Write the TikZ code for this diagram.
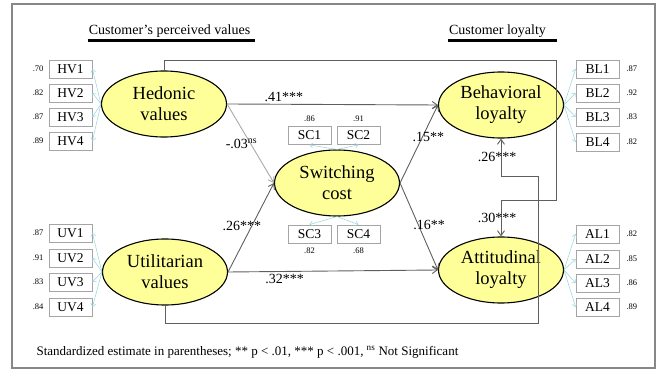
\documentclass[tikz,border=0pt]{standalone}
\usepackage{fontspec}
\setmainfont{Liberation Serif}
\usetikzlibrary{arrows.meta, shapes.geometric}
\definecolor{latyellow}{RGB}{255,255,153}
\definecolor{boxgray}{RGB}{165,165,165}
\definecolor{loadteal}{RGB}{150,212,218}
\definecolor{pathgray}{RGB}{95,95,95}
\definecolor{nsgray}{RGB}{170,170,170}
\definecolor{framegray}{RGB}{135,135,135}

\begin{document}
\begin{tikzpicture}[x=1pt, y=-1pt,
  latent/.style={ellipse, draw=black, line width=1.1pt, fill=latyellow,
        minimum width=125pt, minimum height=66pt, inner sep=0pt,
        align=center, font=\fontsize{18.5}{21}\selectfont},
  ind/.style={draw=boxgray, line width=0.8pt, fill=white, minimum width=43pt,
        minimum height=18pt, inner sep=0pt, font=\fontsize{13.5}{14}\selectfont},
  val/.style={font=\fontsize{8.5}{9}\selectfont, inner sep=1pt},
  load/.style={draw=loadteal, line width=0.5pt, -{Straight Barb[length=3pt,width=5pt]}},
  effect/.style={draw=pathgray, line width=0.9pt, -{Straight Barb[length=5pt,width=7pt]}},
  coef/.style={font=\fontsize{14}{16}\selectfont, inner sep=1pt},
  ttl/.style={font=\fontsize{14}{16}\selectfont, inner xsep=0pt, inner ysep=3pt},
  uline/.style={line width=2.2pt}]
  \useasboundingbox (0,0) rectangle (657,371);

  % Outer frame
  \draw[framegray, line width=1.6pt] (12,4) rectangle (655,368);

  % Group titles
  \node[ttl] (ttlval) at (169.5,31) {Customer’s perceived values};
  \draw[uline] ([xshift=-1pt]ttlval.south west) -- ([xshift=5pt]ttlval.south east);
  \node[ttl] (ttlloy) at (497.5,31) {Customer loyalty};
  \draw[uline] ([xshift=-1pt]ttlloy.south west) -- ([xshift=11pt]ttlloy.south east);

  % Hedonic values
  \node[latent] (hv) at (164,104) {Hedonic\\values};
  \node[ind, label={[val, label distance=4pt]left:.70}] (hv1) at (70.5,69) {HV1};
  \node[ind, label={[val, label distance=4pt]left:.82}] (hv2) at (70.5,93) {HV2};
  \node[ind, label={[val, label distance=4pt]left:.87}] (hv3) at (70.5,117) {HV3};
  \node[ind, label={[val, label distance=4pt]left:.89}] (hv4) at (70.5,141) {HV4};
  \draw[load] (hv.west) -- (hv1.east);
  \draw[load] (hv.west) -- (hv2.east);
  \draw[load] (hv.west) -- (hv3.east);
  \draw[load] (hv.west) -- (hv4.east);

  % Utilitarian values
  \node[latent] (uv) at (165,272) {Utilitarian\\values};
  \node[ind, label={[val, label distance=4pt]left:.87}] (uv1) at (70.5,233) {UV1};
  \node[ind, label={[val, label distance=4pt]left:.91}] (uv2) at (70.5,258) {UV2};
  \node[ind, label={[val, label distance=4pt]left:.83}] (uv3) at (70.5,282) {UV3};
  \node[ind, label={[val, label distance=4pt]left:.84}] (uv4) at (70.5,307) {UV4};
  \draw[load] (uv.west) -- (uv1.east);
  \draw[load] (uv.west) -- (uv2.east);
  \draw[load] (uv.west) -- (uv3.east);
  \draw[load] (uv.west) -- (uv4.east);

  % Switching cost
  \node[latent] (sc) at (337,183) {Switching\\cost};
  \node[ind, label={[val, label distance=3pt]above:.86}] (sc1) at (309.5,135.5) {SC1};
  \node[ind, label={[val, label distance=3pt]above:.91}] (sc2) at (358.5,135.5) {SC2};
  \node[ind, label={[val, label distance=3pt]below:.82}] (sc3) at (309.5,234) {SC3};
  \node[ind, label={[val, label distance=3pt]below:.68}] (sc4) at (358.5,234) {SC4};
  \draw[load] (sc.north) -- (sc1.south);
  \draw[load] (sc.north) -- (sc2.south);
  \draw[load] (sc.south) -- (sc3.north);
  \draw[load] (sc.south) -- (sc4.north);

  % Behavioral loyalty
  \node[latent] (bl) at (501,105) {Behavioral\\loyalty};
  \node[ind, label={[val, label distance=6pt]right:.87}] (bl1) at (597.5,69) {BL1};
  \node[ind, label={[val, label distance=6pt]right:.92}] (bl2) at (597.5,93) {BL2};
  \node[ind, label={[val, label distance=6pt]right:.83}] (bl3) at (597.5,117) {BL3};
  \node[ind, label={[val, label distance=6pt]right:.82}] (bl4) at (597.5,142) {BL4};
  \draw[load] (bl.east) -- (bl1.west);
  \draw[load] (bl.east) -- (bl2.west);
  \draw[load] (bl.east) -- (bl3.west);
  \draw[load] (bl.east) -- (bl4.west);

  % Attitudinal loyalty
  \node[latent] (al) at (501,270) {Attitudinal\\loyalty};
  \node[ind, label={[val, label distance=6pt]right:.82}] (al1) at (597.5,234) {AL1};
  \node[ind, label={[val, label distance=6pt]right:.85}] (al2) at (597.5,259) {AL2};
  \node[ind, label={[val, label distance=6pt]right:.86}] (al3) at (597.5,283) {AL3};
  \node[ind, label={[val, label distance=6pt]right:.89}] (al4) at (597.5,307) {AL4};
  \draw[load] (al.east) -- (al1.west);
  \draw[load] (al.east) -- (al2.west);
  \draw[load] (al.east) -- (al3.west);
  \draw[load] (al.east) -- (al4.west);

  % Structural paths
  \draw[effect] (hv.east) -- (bl.west)
    node[coef, pos=.27, above=1pt] (e41) {.41***};
  \draw[effect, draw=nsgray] (hv.east) -- (sc.west)
    node[coef, pos=.5, xshift=-9pt] (e03) {-.03\textsuperscript{ns}};
  \draw[effect] (uv.east) -- (sc.west)
    node[coef, pos=.52, xshift=-10pt] (e26a) {.26***};
  \draw[effect] (uv.east) -- (al.west)
    node[coef, pos=.27, below=1pt] (e32) {.32***};
  \draw[effect] (sc.east) -- (bl.west)
    node[coef, pos=.59, xshift=6pt] (e15) {.15**};
  \draw[effect] (sc.east) -- (al.west)
    node[coef, pos=.48, xshift=11pt] (e16) {.16**};

  % Direct paths round the mediator
  \coordinate (rtop) at (556,60);
  \coordinate (rmid) at (556,200);
  \coordinate (rbot) at (538,323);
  \coordinate (rlow) at (538,176);
  \draw[effect] (hv.north) |- (rtop) -- (rmid) -| (al.north)
    node[coef, pos=.75, xshift=-4pt] (e30) {.30***};
  \draw[effect] (uv.south) |- (rbot) -- (rlow) -| (bl.south)
    node[coef, pos=.75, xshift=-4pt] (e26b) {.26***};

  % Footnote
  \node[font=\fontsize{13}{14}\selectfont, anchor=west] (fnote) at (33,352)
    {Standardized estimate in parentheses; ** p < .01, *** p < .001, \textsuperscript{ns} Not Significant};
\end{tikzpicture}
\end{document}
